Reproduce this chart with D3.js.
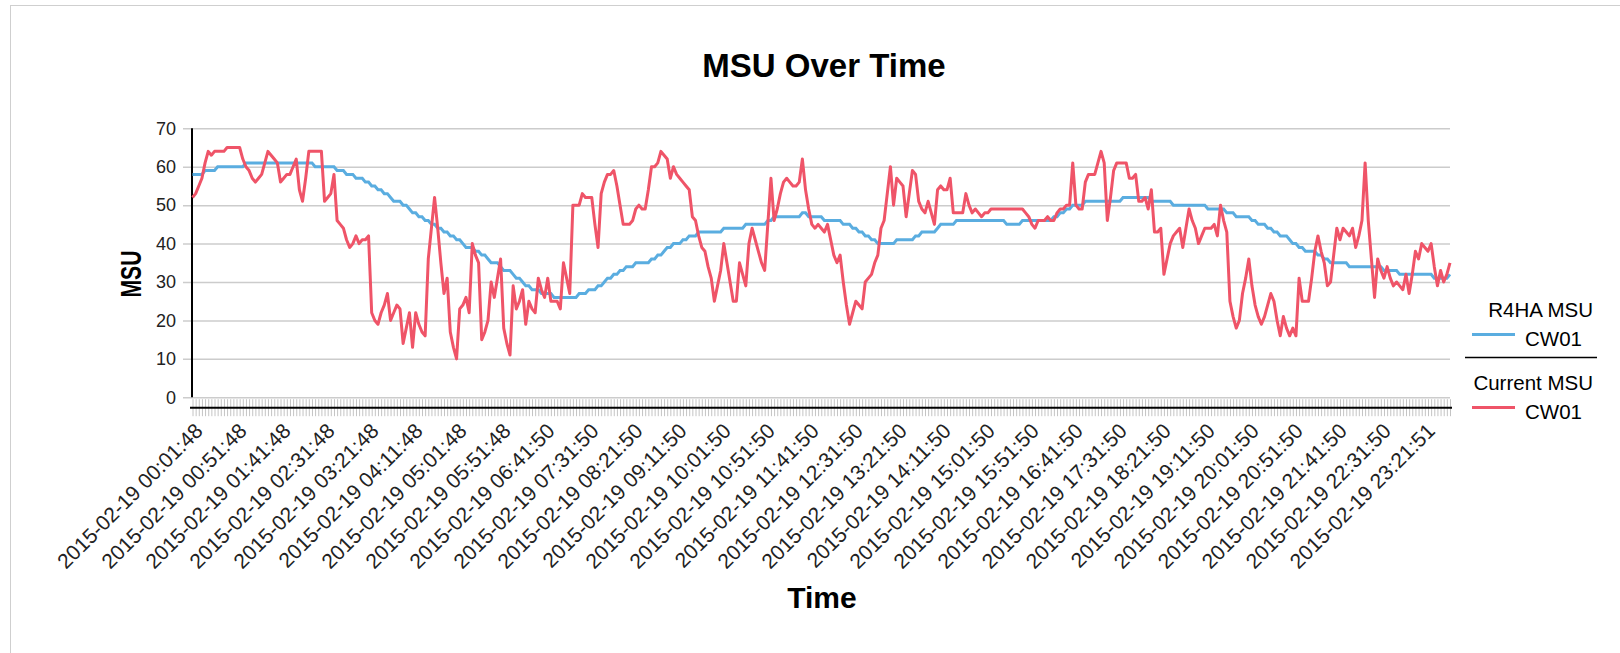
<!DOCTYPE html>
<html>
<head>
<meta charset="utf-8">
<script src="https://cdn.jsdelivr.net/npm/d3@7"></script>
<style>
  body { margin: 0; background: #fff; }
  svg { display: block; font-family: "Liberation Sans", Arial, sans-serif; }
</style>
</head>
<body>
<svg id="chart" width="1620" height="653"></svg>
<script>
// tick labels shown every 14th sample on the x axis
const timeLabels = [
  "2015-02-19 00:01:48", "2015-02-19 00:51:48", "2015-02-19 01:41:48", "2015-02-19 02:31:48",
  "2015-02-19 03:21:48", "2015-02-19 04:11:48", "2015-02-19 05:01:48", "2015-02-19 05:51:48",
  "2015-02-19 06:41:50", "2015-02-19 07:31:50", "2015-02-19 08:21:50", "2015-02-19 09:11:50",
  "2015-02-19 10:01:50", "2015-02-19 10:51:50", "2015-02-19 11:41:50", "2015-02-19 12:31:50",
  "2015-02-19 13:21:50", "2015-02-19 14:11:50", "2015-02-19 15:01:50", "2015-02-19 15:51:50",
  "2015-02-19 16:41:50", "2015-02-19 17:31:50", "2015-02-19 18:21:50", "2015-02-19 19:11:50",
  "2015-02-19 20:01:50", "2015-02-19 20:51:50", "2015-02-19 21:41:50", "2015-02-19 22:31:50",
  "2015-02-19 23:21:51"
];
const labelEvery = 14;

const yTicks = [0, 10, 20, 30, 40, 50, 60, 70];

// R4HA MSU, CW01
const r4ha = [
  58,58,58,58,59,59,59,59,60,60, 60,60,60,60,60,60,60,61,61,61,
  61,61,61,61,61,61,61,61,61,61, 61,61,61,61,61,61,61,61,61,60,
  60,60,60,60,60,60,59,59,59,58, 58,58,57,57,57,56,56,55,55,54,
  54,53,53,52,51,51,51,50,50,49, 48,48,47,47,46,46,45,45,44,44,
  43,43,42,42,41,41,40,39,39,39, 38,38,37,37,36,35,35,35,34,33,
  33,33,32,31,31,30,29,29,28,28, 28,27,27,27,27,26,26,26,26,26,
  26,26,26,27,27,27,28,28,28,29, 29,30,31,31,32,32,33,33,34,34,
  34,35,35,35,35,35,36,36,37,37, 38,39,39,40,40,40,41,41,42,42,
  42,43,43,43,43,43,43,43,43,44, 44,44,44,44,44,44,45,45,45,45,
  45,45,45,46,46,47,47,47,47,47, 47,47,47,47,48,48,47,47,47,47,
  47,46,46,46,46,46,46,45,45,45, 44,44,43,43,42,42,41,41,40,40,
  40,40,40,40,41,41,41,41,41,41, 42,42,43,43,43,43,43,44,45,45,
  45,45,45,46,46,46,46,46,46,46, 46,46,46,46,46,46,46,46,46,45,
  45,45,45,45,46,46,46,46,46,46, 46,46,46,46,47,47,48,48,49,49,
  50,50,50,50,51,51,51,51,51,51, 51,51,51,51,51,51,52,52,52,52,
  52,52,52,52,52,51,51,51,51,51, 51,51,50,50,50,50,50,50,50,50,
  50,50,50,49,49,49,49,49,49,48, 48,48,47,47,47,47,47,46,46,45,
  45,45,44,44,43,43,42,42,42,41, 40,40,39,39,38,38,38,38,37,37,
  36,36,35,35,35,35,35,35,34,34, 34,34,34,34,34,34,34,34,34,33,
  33,33,33,33,32,32,32,32,32,32, 32,32,32,32,32,31,31,31,31,31,
  32
];

// Current MSU, CW01
const current = [
  52,53,55,57,61,64,63,64,64,64, 64,65,65,65,65,65,62,60,59,57,
  56,57,58,61,64,63,62,61,56,57, 58,58,60,62,54,51,57,64,64,64,
  64,64,51,52,53,58,46,45,44,41, 39,40,42,40,41,41,42,22,20,19,
  22,24,27,20,22,24,23,14,18,22, 13,22,19,17,16,36,44,52,44,35,
  27,31,17,13,10,23,24,26,22,40, 37,35,15,17,20,30,26,31,36,18,
  14,11,29,23,25,28,19,25,23,22, 31,28,26,31,25,25,25,23,35,31,
  27,50,50,50,53,52,52,52,45,39, 53,56,58,58,59,55,50,45,45,45,
  46,49,50,49,49,54,60,60,61,64, 63,62,57,60,58,57,56,55,54,47,
  46,42,39,38,34,31,25,29,33,40, 35,30,25,25,35,32,29,40,44,41,
  38,35,33,45,57,46,49,53,56,57, 56,55,55,56,62,54,49,45,44,45,
  44,43,45,41,37,35,37,30,24,19, 22,25,24,23,30,31,32,35,37,44,
  46,53,60,50,57,56,55,47,53,59, 58,51,49,48,51,48,45,54,55,54,
  54,57,48,48,48,48,53,50,48,49, 48,47,48,48,49,49,49,49,49,49,
  49,49,49,49,49,48,47,45,44,46, 46,46,47,46,46,48,49,49,50,50,
  61,50,49,49,56,58,58,58,61,64, 61,46,52,59,61,61,61,61,57,57,
  58,51,51,52,49,54,43,43,44,32, 36,40,42,43,44,39,44,49,46,44,
  40,42,44,44,44,45,42,50,46,43, 25,21,18,20,27,31,36,29,24,21,
  19,21,24,27,25,20,16,21,18,16, 18,16,31,25,25,25,31,38,42,38,
  35,29,30,37,44,41,44,43,42,44, 39,42,46,61,46,36,26,36,33,31,
  34,31,29,30,29,28,32,27,32,38, 36,40,39,38,40,34,29,33,30,32,
  35
];

const width = 1620, height = 653;
const plot = { left: 192.5, right: 1450, top: 128.3, bottom: 397.3 };
const axisY = 407.7;   // the category axis sits a bit below the zero line
const blue = "#5aade0", red = "#ef5468";
const font = "'Liberation Sans', Arial, sans-serif";

const svg = d3.select("#chart");

// outer frame
svg.append("rect")
  .attr("x", 10.5).attr("y", 5.5)
  .attr("width", width).attr("height", height)
  .attr("fill", "none").attr("stroke", "#cfcfcf");

const idx = d3.range(r4ha.length);

let x = d3.scalePoint()
  .domain(idx)
  .range([plot.left, plot.right]);

let y = d3.scaleLinear()
  .domain([0, 70])
  .range([plot.bottom, plot.top]);

// gridlines + y tick labels
const yAxis = svg.append("g")
  .attr("transform", "translate(183,0)")
  .call(d3.axisLeft(y).tickValues(yTicks).tickSizeInner(-(plot.right - 183)).tickSizeOuter(0).tickPadding(7));
yAxis.select(".domain").remove();
yAxis.selectAll(".tick line").attr("stroke", "#cccccc").attr("stroke-width", 1.5);
yAxis.selectAll(".tick text")
  .attr("font-size", 18).attr("fill", "#222")
  .style("font-family", font);

// y axis line
svg.append("line")
  .attr("x1", 192).attr("x2", 192)
  .attr("y1", plot.top).attr("y2", plot.bottom)
  .attr("stroke", "#000").attr("stroke-width", 2);

// x axis: a tick on every sample, label every 14th
const xAxis = svg.append("g")
  .attr("transform", "translate(0," + (axisY - 8.5) + ")")
  .call(d3.axisBottom(x)
    .tickValues(idx)
    .tickSizeInner(17)
    .tickSizeOuter(0)
    .tickFormat(function(d) {
      return d % labelEvery === 0 ? timeLabels[d / labelEvery] : "";
    }));
xAxis.select(".domain").remove();
xAxis.selectAll(".tick line").attr("stroke", "#c4c4c4").attr("stroke-width", 1);
xAxis.selectAll(".tick text")
  .attr("font-size", 21)
  .attr("fill", "#222")
  .style("font-family", font)
  .attr("text-anchor", "end")
  .attr("y", 0).attr("dy", 0)
  .attr("transform", "translate(11,33) rotate(-45)");

svg.append("line")
  .attr("x1", 190).attr("x2", plot.right + 2)
  .attr("y1", axisY).attr("y2", axisY)
  .attr("stroke", "#000").attr("stroke-width", 2);

// series lines
const line = d3.line()
  .x(function(d, i) { return x(i); })
  .y(function(d) { return y(d); });

svg.append("path")
  .datum(r4ha)
  .attr("fill", "none")
  .attr("stroke", blue)
  .attr("stroke-width", 3)
  .attr("d", line);

svg.append("path")
  .datum(current)
  .attr("fill", "none")
  .attr("stroke", red)
  .attr("stroke-width", 3)
  .attr("stroke-linejoin", "round")
  .attr("d", line);

// titles
svg.append("text")
  .attr("x", 824).attr("y", 77)
  .attr("text-anchor", "middle")
  .attr("font-size", 33).attr("font-weight", "bold")
  .text("MSU Over Time");

svg.append("text")
  .attr("x", 822).attr("y", 608)
  .attr("text-anchor", "middle")
  .attr("font-size", 30).attr("font-weight", "bold")
  .text("Time");

svg.append("text")
  .attr("transform", "translate(141,274) rotate(-90)")
  .attr("text-anchor", "middle")
  .attr("font-size", 30).attr("font-weight", "bold")
  .attr("textLength", 47).attr("lengthAdjust", "spacingAndGlyphs")
  .text("MSU");

// legend
const legend = svg.append("g").style("font-size", "20.5px");
const groups = [
  { title: "R4HA MSU", name: "CW01", color: blue, y: 317 },
  { title: "Current MSU", name: "CW01", color: red, y: 390 }
];
groups.forEach(function(g) {
  legend.append("text")
    .attr("x", 1593).attr("y", g.y)
    .attr("text-anchor", "end")
    .text(g.title);
  legend.append("line")
    .attr("x1", 1472).attr("x2", 1515)
    .attr("y1", g.y + 17.5).attr("y2", g.y + 17.5)
    .attr("stroke", g.color).attr("stroke-width", 3);
  legend.append("text")
    .attr("x", 1525).attr("y", g.y + 28.5)
    .text(g.name);
});
legend.append("line")
  .attr("x1", 1465).attr("x2", 1597)
  .attr("y1", 357.5).attr("y2", 357.5)
  .attr("stroke", "#000").attr("stroke-width", 1.5);
</script>
</body>
</html>
